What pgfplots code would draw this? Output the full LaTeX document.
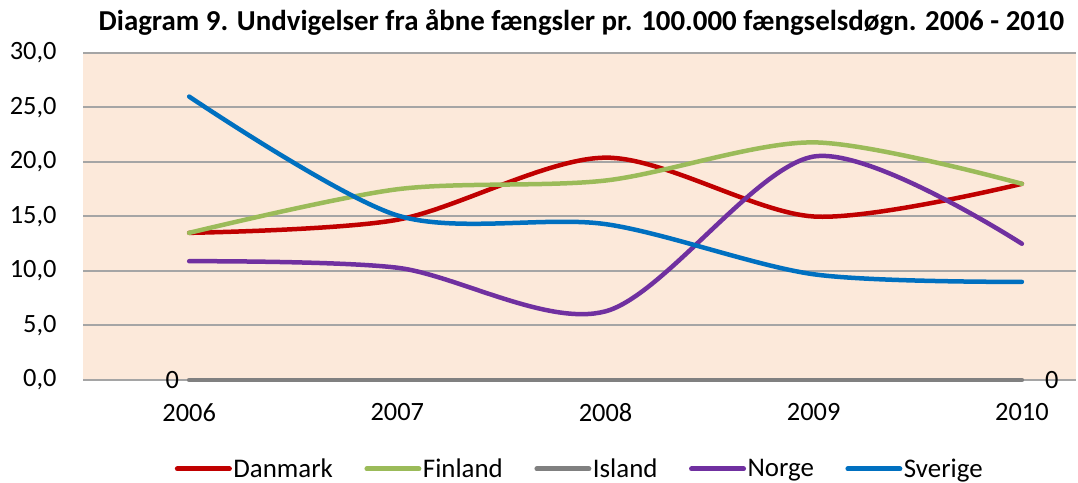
\documentclass[border=0pt]{standalone}
\usepackage{fontspec}
\setmainfont{Carlito}
\usepackage{pgfplots}
\pgfplotsset{compat=1.18}
\definecolor{bg}{RGB}{252,233,218}
\definecolor{gridgray}{RGB}{165,165,165}
\definecolor{dkred}{RGB}{192,0,0}
\definecolor{fgreen}{RGB}{155,187,89}
\definecolor{igray}{RGB}{128,128,128}
\definecolor{npurple}{RGB}{112,48,160}
\definecolor{sblue}{RGB}{0,112,192}
\begin{document}
\begin{tikzpicture}
\useasboundingbox (0,0) rectangle (1078bp,483bp);
\node[font=\bfseries\fontsize{29}{33}\selectfont, anchor=center, inner sep=0] at (581.5bp,461bp) {Diagram 9. Undvigelser fra åbne fængsler pr. 100.000 fængselsdøgn. 2006 - 2010};
\begin{axis}[
  at={(83bp,103bp)}, anchor=south west,
  scale only axis, width=993bp, height=327bp,
  xmin=-0.51, xmax=4.26, ymin=0, ymax=30,
  ytick={0,5,...,30}, xtick={0,...,4},
  xticklabels={2006,2007,2008,2009,2010},
  ymajorgrids, grid style={draw=gridgray, line width=2bp},
  axis line style={draw=none}, major tick length=0,
  axis background/.style={fill=bg},
  tick label style={font=\fontsize{26.5}{30}\selectfont},
  /pgf/number format/assume math mode=true,
  yticklabel style={/pgf/number format/fixed, /pgf/number format/fixed zerofill, /pgf/number format/precision=1, /pgf/number format/use comma, xshift=-23bp},
  xticklabel style={yshift=-20bp},
  clip=false,
  every axis plot/.append style={line width=4.5bp, line cap=round, smooth, no markers},
  legend columns=5,
  legend style={draw=none, fill=none, at={(0.5,-0.272)}, anchor=center,
    inner sep=0pt, nodes={inner sep=1.5bp},
    font=\fontsize{27}{30}\selectfont,
    /tikz/every even column/.append style={column sep=30bp}},
  legend image code/.code={\draw[#1, line width=5bp] (0bp,0bp) -- (52bp,0bp);},
]
\addplot[dkred] coordinates {(0,13.5) (1,14.7) (2,20.4) (3,15.0) (4,18.0)};
\addlegendentry{Danmark}
\addplot[fgreen] coordinates {(0,13.5) (1,17.5) (2,18.3) (3,21.8) (4,18.0)};
\addlegendentry{Finland}
\addplot[igray] coordinates {(0,0) (1,0) (2,0) (3,0) (4,0)};
\addlegendentry{Island}
\addplot[npurple] coordinates {(0,10.9) (1,10.3) (2,6.3) (3,20.5) (4,12.5)};
\addlegendentry{Norge}
\addplot[sblue] coordinates {(0,26.0) (1,15.1) (2,14.3) (3,9.7) (4,9.0)};
\addlegendentry{Sverige}
\node[anchor=east, inner sep=0, xshift=-10bp, font=\fontsize{26.5}{30}\selectfont] at (axis cs:0,0) {0};
\node[anchor=west, inner sep=0, xshift=23bp, font=\fontsize{26.5}{30}\selectfont] at (axis cs:4,0) {0};
\end{axis}
\end{tikzpicture}
\end{document}
